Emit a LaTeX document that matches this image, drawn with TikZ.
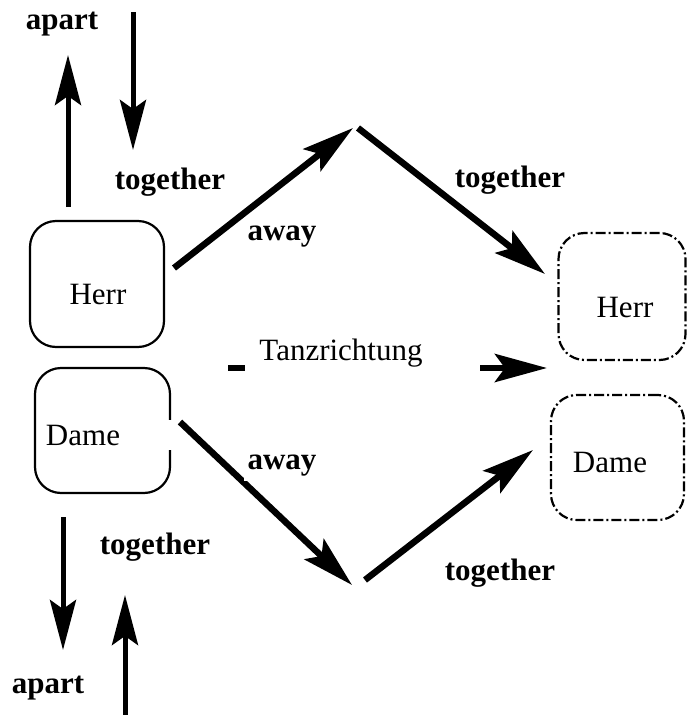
\documentclass[tikz,border=0pt]{standalone}
\usepackage{fontspec}
\setmainfont{Liberation Serif}
\usetikzlibrary{arrows.meta}
\begin{document}
\begin{tikzpicture}[x=1pt,y=-1pt,
  dancer/.style={draw,line width=2.2pt,rounded corners=26pt,inner sep=0pt,font=\fontsize{31}{36}\selectfont},
  ghost/.style={dancer,dash pattern=on 10pt off 3pt on 2pt off 3pt},
  lbl/.style={font=\fontsize{31}{35}\selectfont\bfseries,inner sep=1pt},
  plain/.style={font=\fontsize{31}{36}\selectfont,inner sep=1pt},
  vmove/.style={line width=5pt,-{Stealth[length=50pt,width=26pt,inset=9pt]}},
  dmove/.style={line width=6.5pt,-{Stealth[length=52pt,width=28pt,inset=10pt]}}]
\useasboundingbox (0,0) rectangle (688,715);
% dancers at the start
\node[dancer,minimum width=134pt,minimum height=126pt] (herrA) at (97,284) {};
\node[plain] (herrAt) at (98,294) {Herr};
\node[dancer,minimum width=135pt,minimum height=125pt] (dameA) at (102.5,430.5) {};
\node[plain] (dameAt) at (83,435) {Dame};
\fill[white] (166,420) rectangle (174,450);
% dancers at the end
\node[ghost,minimum width=127pt,minimum height=127pt] (herrB) at (622,296.5) {};
\node[plain] (herrBt) at (625,307) {Herr};
\node[ghost,minimum width=133pt,minimum height=125pt] (dameB) at (617.5,457.5) {};
\node[plain] (dameBt) at (610,462) {Dame};
% end points
\coordinate (u1s) at (68,207);  \coordinate (u1e) at (68,55);
\coordinate (d1s) at (133,12);  \coordinate (d1e) at (133,150);
\coordinate (aws) at (174,268); \coordinate (awe) at (353,128);
\coordinate (tgs) at (358,128); \coordinate (tge) at (545,274);
\coordinate (t0) at (228,368);  \coordinate (t1) at (245,368);
\coordinate (t2) at (480,368);  \coordinate (t3) at (547,368);
\coordinate (bws) at (180,422); \coordinate (bwe) at (352,585);
\coordinate (bgs) at (365,580); \coordinate (bge) at (533,450);
\coordinate (d2s) at (63,517);  \coordinate (d2e) at (63,650);
\coordinate (u2s) at (125,715); \coordinate (u2e) at (125,595);
% connectors
\draw[vmove] (u1s) -- (u1e);
\draw[vmove] (d1s) -- (d1e);
\draw[dmove] (aws) -- (awe);
\draw[dmove] (tgs) -- (tge);
\draw[line width=6pt] (t0) -- (t1);
\draw[dmove] (t2) -- (t3);
\draw[dmove] (bws) -- (bwe);
\draw[dmove] (bgs) -- (bge);
\draw[vmove] (d2s) -- (d2e);
\draw[vmove] (u2s) -- (u2e);
% labels
\node[lbl] (l1) at (62,24) {apart};
\node[lbl] (l2) at (170,182) {together};
\node[lbl] (l3) at (282,237) {away};
\node[lbl] (l4) at (510,180) {together};
\node[plain] (l5) at (341,353) {Tanzrichtung};
\node[lbl,fill=white,inner sep=4pt] (l6) at (282,466) {away};
\node[lbl] (l7) at (155,547) {together};
\node[lbl] (l8) at (500,573) {together};
\node[lbl] (l9) at (48,688) {apart};
\end{tikzpicture}
\end{document}
